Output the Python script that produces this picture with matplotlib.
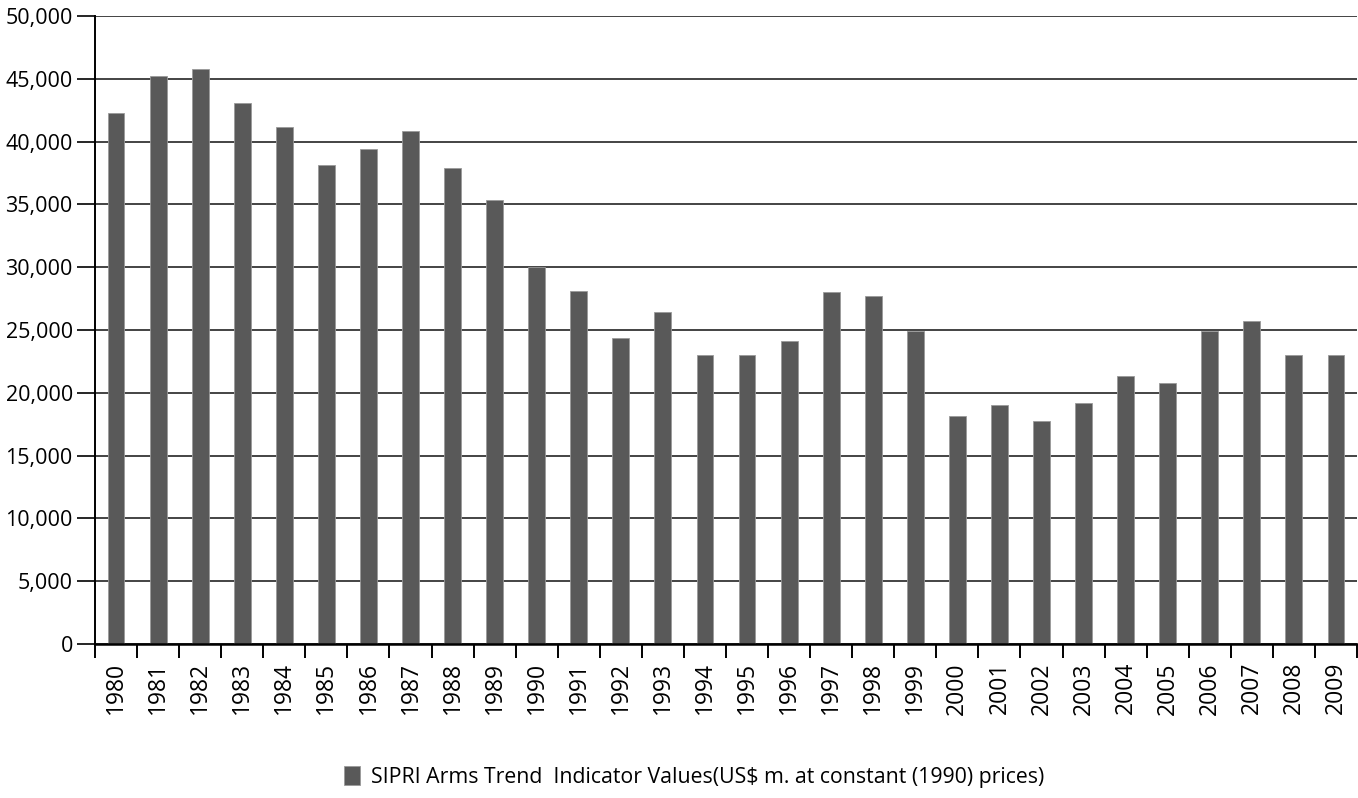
import matplotlib
matplotlib.use("Agg")
import matplotlib.pyplot as plt
from matplotlib.ticker import FuncFormatter, MultipleLocator, FixedLocator
from matplotlib.patches import Patch
import numpy as np

years = [str(y) for y in range(1980, 2010)]
values = [42250, 45250, 45800, 43100, 41180, 38170, 39420, 40870, 37880, 35350,
          30000, 28080, 24390, 26460, 22990, 22990, 24090, 28020, 27730, 24900,
          18190, 19000, 17750, 19150, 21340, 20770, 24950, 25750, 22970, 22970]
series_name = "SIPRI Arms Trend  Indicator Values(US\\$ m. at constant (1990) prices)"

plt.rcParams['font.family'] = ['Open Sans', 'DejaVu Sans']

fig = plt.figure(figsize=(13.58, 7.98), dpi=100)
ax = fig.add_axes([95/1358, 154/798, 1262/1358, 628/798])

x = np.arange(len(years))
bar_color = '#595959'
ax.bar(x, values, width=0.4, color=bar_color, edgecolor='#9a9a9a', linewidth=0.6, zorder=3)

ax.set_xlim(-0.5, len(years) - 0.5)
ax.set_ylim(0, 50000)
ax.yaxis.set_major_locator(MultipleLocator(5000))
ax.yaxis.set_major_formatter(FuncFormatter(lambda v, p: f"{int(v):,}"))
ax.grid(axis='y', color='#111111', linewidth=1.1, zorder=1)

ax.set_xticks(x)
ax.set_xticklabels(years, rotation=90, fontsize=16.5)
ax.xaxis.set_minor_locator(FixedLocator(np.arange(-0.5, len(years), 1.0)))
ax.tick_params(axis='x', which='major', length=0, pad=13)
ax.tick_params(axis='x', which='minor', length=10, width=1.4, direction='out', color='black')
ax.tick_params(axis='y', length=13, width=1.2, labelsize=15.5, pad=3, color='black')

for s in ['top', 'right']:
    ax.spines[s].set_visible(False)
ax.spines['left'].set_linewidth(1.4)
ax.spines['bottom'].set_linewidth(1.8)
ax.spines['left'].set_zorder(4)
ax.spines['bottom'].set_zorder(4)

handle = Patch(facecolor=bar_color, edgecolor='#9a9a9a', linewidth=0.6)
fig.legend([handle], [series_name], loc='center', bbox_to_anchor=(694/1358, 1 - 777/798),
           frameon=False, fontsize=15.3, handlelength=0.75, handleheight=1.0, handletextpad=0.5)

fig.savefig("out.png", dpi=100)
